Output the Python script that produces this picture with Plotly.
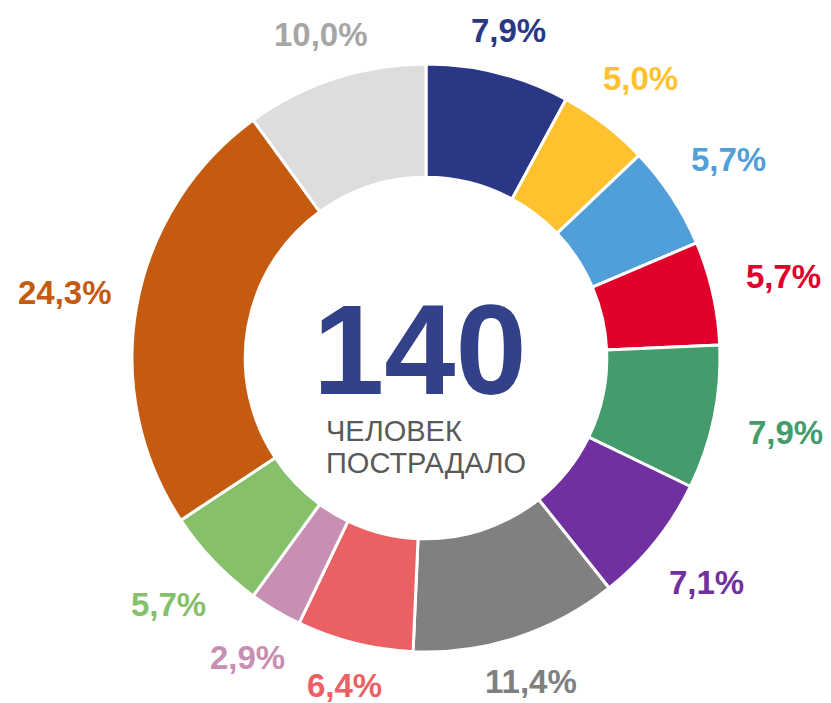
import math
import plotly.graph_objects as go

# доли пострадавших, по часовой стрелке от 12 часов
values = [7.9, 5.0, 5.7, 5.7, 7.9, 7.1, 11.4, 6.4, 2.9, 5.7, 24.3, 10.0]
labels = ['7,9%', '5,0%', '5,7%', '5,7%', '7,9%', '7,1%',
          '11,4%', '6,4%', '2,9%', '5,7%', '24,3%', '10,0%']
colors = ['#2A3784', '#FFC12E', '#519FD9', '#E0002B', '#449C6D', '#7030A0',
          '#808080', '#EB6163', '#C78FB2', '#87C06B', '#C55A11', '#DDDDDD']
label_colors = colors[:-1] + ['#A6A6A6']
total = '140'
caption = ['ЧЕЛОВЕК', 'ПОСТРАДАЛО']

W, H = 831, 703
cx, cy, R = 426, 358, 294


def px(x):
    return x / W


def py(y):
    return 1 - y / H


fig = go.Figure()

fig.add_trace(go.Pie(
    values=values,
    marker=dict(colors=colors, line=dict(color='white', width=3)),
    hole=0.615,
    sort=False,
    direction='clockwise',
    rotation=0,
    textinfo='none',
    hoverinfo='skip',
    showlegend=False,
    domain=dict(x=[px(cx - R), px(cx + R)], y=[py(cy + R), py(cy - R)])
))

# подписи процентов снаружи кольца
annotations = []
cum = 0
for v, lab, col in zip(values, labels, label_colors):
    ang = math.radians((cum + v / 2) * 3.6)
    cum += v
    r = 328 + 40 * abs(math.sin(ang))
    annotations.append(dict(
        x=px(cx + r * math.sin(ang)), y=py(cy - r * math.cos(ang)),
        xref='paper', yref='paper', text='<b>%s</b>' % lab, showarrow=False,
        xanchor='center', yanchor='middle',
        font=dict(family='Liberation Sans, Arial', size=33, color=col)
    ))

# центр
annotations.append(dict(
    x=px(420), y=py(349), xref='paper', yref='paper',
    text='<b>%s</b>' % total, showarrow=False,
    xanchor='center', yanchor='middle', height=112, valign='middle',
    font=dict(family='Liberation Sans, Arial', size=128, color='#33418A')
))
for i, line in enumerate(caption):
    annotations.append(dict(
        x=px(324), y=py(431 + 32 * i), xref='paper', yref='paper',
        text=line, showarrow=False, xanchor='left', yanchor='middle',
        font=dict(family='Liberation Sans, Arial', size=29, color='#595959')
    ))

fig.update_layout(
    width=W, height=H,
    margin=dict(l=0, r=0, t=0, b=0),
    paper_bgcolor='white',
    plot_bgcolor='white',
    annotations=annotations
)

fig.write_html("out.html", config={'displayModeBar': False},
               post_script="document.body.style.margin='0';")
